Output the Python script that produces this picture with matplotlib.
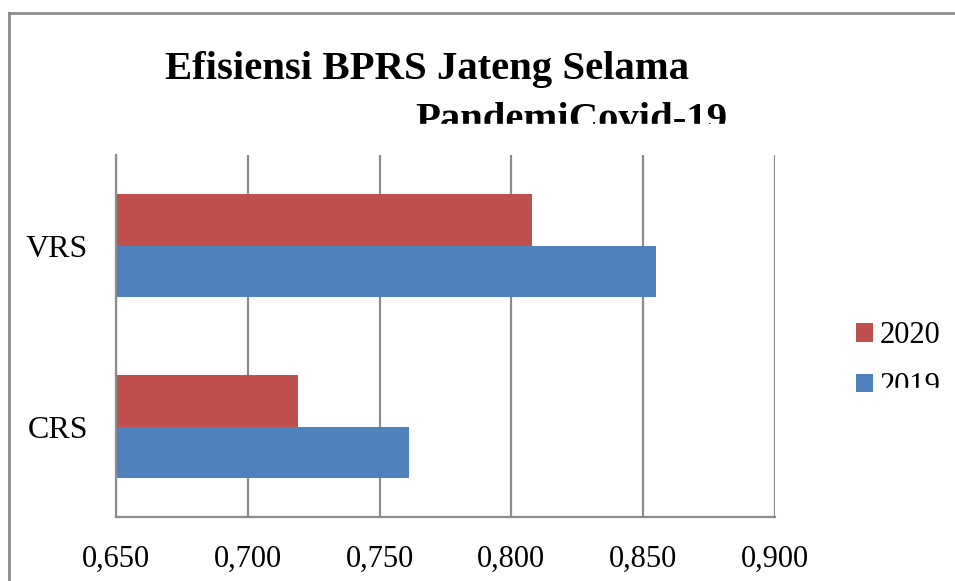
import numpy as np
import matplotlib
matplotlib.use("Agg")
import matplotlib.pyplot as plt
from matplotlib.patches import Rectangle
from matplotlib.lines import Line2D
from matplotlib.ticker import FuncFormatter

# data
categories = ["CRS", "VRS"]
years = ["2020", "2019"]
eff_2020 = [0.719, 0.808]
eff_2019 = [0.761, 0.855]
xticks = [0.650, 0.700, 0.750, 0.800, 0.850, 0.900]

RED = "#C0504D"
BLUE = "#4F81BD"
GRID = "#8C8C8C"

plt.rcParams["font.family"] = ["Liberation Serif", "DejaVu Serif"]

W, H = 955, 581
fig = plt.figure(figsize=(W / 100, H / 100), dpi=100)
ax = fig.add_axes([116 / W, 1 - 517 / H, (775 - 116) / W, (517 - 155) / H])

y = np.arange(len(categories))
h = 0.287
ax.barh(y + h / 2, eff_2020, height=h, color=RED, label=years[0], left=0)
ax.barh(y - h / 2, eff_2019, height=h, color=BLUE, label=years[1], left=0)

ax.set_xlim(xticks[0], xticks[-1])
ax.set_ylim(-0.5, 1.5)
ax.set_xticks(xticks)
ax.xaxis.set_major_formatter(FuncFormatter(lambda v, p: f"{v:.3f}".replace(".", ",")))
ax.set_yticks(y)
ax.set_yticklabels(categories)
ax.tick_params(axis="x", length=0, labelsize=22, pad=20)
ax.tick_params(axis="y", length=0, labelsize=23, pad=20)
ax.grid(axis="x", color=GRID, linewidth=1.6)
ax.set_axisbelow(True)
for s in ["top", "right"]:
    ax.spines[s].set_visible(False)
for s in ["left", "bottom"]:
    ax.spines[s].set_color(GRID)
    ax.spines[s].set_linewidth(1.6)

# legend, 2020 above 2019
handles, labels = ax.get_legend_handles_labels()
fig.legend(handles, labels, loc="upper left", bbox_to_anchor=(844 / W, 1 - 309 / H),
           frameon=False, fontsize=22, handlelength=0.55, handleheight=0.55,
           handletextpad=0.2, labelspacing=0.7, borderaxespad=0)

# title (wrapped, partly cut off in the original)
fig.text(165 / W, 1 - 79 / H, "Efisiensi BPRS Jateng Selama", fontsize=29.3,
         fontweight="bold", ha="left", va="baseline")
fig.text(727 / W, 1 - 130 / H, "PandemiCovid-19", fontsize=29.3,
         fontweight="bold", ha="right", va="baseline")

# white masks for the clipped parts
fig.patches.append(Rectangle((300 / W, 1 - 150 / H), 500 / W, 26 / H,
                             transform=fig.transFigure, color="white", zorder=20))
fig.patches.append(Rectangle((874 / W, 0), 81 / W, 1 - 388 / H,
                             transform=fig.transFigure, color="white", zorder=20))

# outer chart frame
fig.add_artist(Line2D([9 / W, 9 / W], [0, 1 - 13 / H], transform=fig.transFigure,
                      color=GRID, linewidth=2))
fig.add_artist(Line2D([9 / W, 1], [1 - 13 / H, 1 - 13 / H], transform=fig.transFigure,
                      color=GRID, linewidth=2))

fig.savefig("out.png", dpi=100)
